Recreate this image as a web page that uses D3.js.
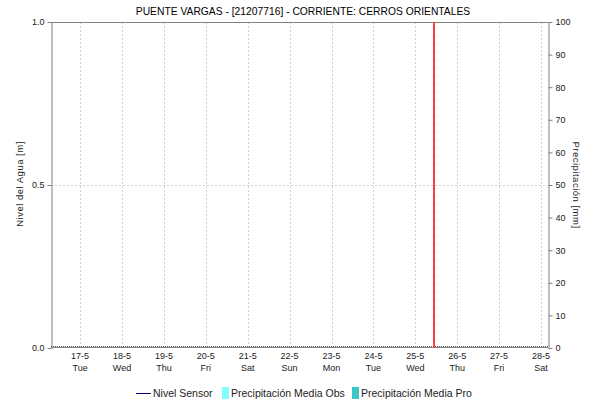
<!DOCTYPE html>
<html><head><meta charset="utf-8">
<script src="https://cdn.jsdelivr.net/npm/d3@7"></script>
<style>body{margin:0;background:#fff}svg{display:block;font-family:"Liberation Sans",Arial,sans-serif}</style>
</head><body><svg id="c" width="595" height="403"></svg>
<script>
const title = "PUENTE VARGAS - [21207716] - CORRIENTE: CERROS ORIENTALES";
const dayTicks = ["2022-05-17","2022-05-18","2022-05-19","2022-05-20","2022-05-21","2022-05-22","2022-05-23","2022-05-24","2022-05-25","2022-05-26","2022-05-27","2022-05-28"];
const dayNames = ["Sun","Mon","Tue","Wed","Thu","Fri","Sat"];
const timeDomain = ["2022-05-16T07:20","2022-05-28T04:00"];
const nowMarker = "2022-05-25T10:20";
const levelTicks = [0, 0.5, 1.0];
const precipTicks = [0,10,20,30,40,50,60,70,80,90,100];
const nivelSensor = []; // no readings
const legendItems = ["Nivel Sensor","Precipitación Media Obs","Precipitación Media Pro"];

const svg = d3.select("#c");
const L=51, R=548, T=22, B=348;
const parse = d3.timeParse("%Y-%m-%dT%H:%M");
const pday = d3.timeParse("%Y-%m-%d");
const x = d3.scaleTime().domain(timeDomain.map(parse)).range([L,R]);
const yL = d3.scaleLinear().domain([0,1]).range([B,T]);
const yR = d3.scaleLinear().domain([0,100]).range([B,T]);

// grid
const g = svg.append("g");
dayTicks.forEach(d=>{
  const xx = Math.round(x(pday(d)))+0.5;
  g.append("line").attr("x1",xx).attr("x2",xx).attr("y1",T).attr("y2",B)
   .attr("stroke","#d0d0d0").attr("stroke-dasharray","2,2");
});
g.append("line").attr("x1",L).attr("x2",R).attr("y1",Math.round(yL(0.5))+0.5).attr("y2",Math.round(yL(0.5))+0.5)
  .attr("stroke","#d0d0d0").attr("stroke-dasharray","2,2");

// frame top
svg.append("line").attr("x1",L).attr("x2",R).attr("y1",T+0.5).attr("y2",T+0.5).attr("stroke","#808080");

// baseline dotted
svg.append("line").attr("x1",L).attr("x2",R).attr("y1",B-0.5).attr("y2",B-0.5).attr("stroke","#808080");
svg.append("line").attr("x1",L).attr("x2",R).attr("y1",B-1.5).attr("y2",B-1.5).attr("stroke","#555").attr("stroke-dasharray","1,1");

// now marker
const nx = Math.round(x(parse(nowMarker)));
svg.append("rect").attr("x",nx).attr("y",T).attr("width",2).attr("height",B-T).attr("fill","#ff4040");
svg.append("line").attr("x1",nx+1.5).attr("x2",nx+1.5).attr("y1",T+6).attr("y2",B).attr("stroke","#b02020").attr("stroke-dasharray","1,7").attr("stroke-width",1);

// left axis
const axL = d3.axisLeft(yL).tickValues(levelTicks).tickFormat(d3.format(".1f")).tickSize(4).tickSizeOuter(0);
const gl = svg.append("g").attr("transform",`translate(${L+0.5},0)`).call(axL);
gl.select(".domain").attr("stroke","#808080");
gl.selectAll(".tick line").attr("stroke","#808080");
gl.selectAll("text").attr("font-size",9).attr("fill","#222");

// right axis
const axR = d3.axisRight(yR).tickValues(precipTicks).tickSize(4).tickSizeOuter(0);
const gr = svg.append("g").attr("transform",`translate(${R+0.5},0)`).call(axR);
gr.select(".domain").attr("stroke","#808080");
gr.selectAll(".tick line").attr("stroke","#808080");
gr.selectAll("text").attr("font-size",9).attr("fill","#222");

// bottom labels
const axB = d3.axisBottom(x).tickValues(dayTicks.map(pday)).tickSize(0).tickFormat(d=>"");
svg.append("g").attr("transform",`translate(0,${B})`).call(axB).select(".domain").remove();
dayTicks.forEach(d=>{
  const dt = pday(d);
  const xx = x(dt);
  svg.append("text").attr("x",xx).attr("y",359).attr("text-anchor","middle").attr("font-size",9).attr("fill","#222")
     .text(d3.timeFormat("%-d-%-m")(dt));
  svg.append("text").attr("x",xx).attr("y",371).attr("text-anchor","middle").attr("font-size",9).attr("fill","#222")
     .text(dayNames[dt.getDay()]);
});

// series
const line = d3.line().x(d=>x(parse(d[0]))).y(d=>yL(d[1]));
svg.append("path").datum(nivelSensor).attr("d",line).attr("fill","none").attr("stroke","#00008b");

// title
svg.append("text").attr("x",303).attr("y",15).attr("text-anchor","middle").attr("font-size",10.3).attr("fill","#000").text(title);
// axis titles
svg.append("text").attr("transform",`translate(23,184) rotate(-90)`).attr("text-anchor","middle").attr("font-size",9.5).attr("letter-spacing",0.5).attr("fill","#222").text("Nivel del Agua [m]");
svg.append("text").attr("transform",`translate(573,185) rotate(90)`).attr("text-anchor","middle").attr("font-size",9.5).attr("letter-spacing",0.5).attr("fill","#222").text("Precipitación [mm]");

// legend
const ly = 393;
svg.append("line").attr("x1",136).attr("x2",151).attr("y1",ly+0.5).attr("y2",ly+0.5).attr("stroke","#00008b");
svg.append("text").attr("x",153).attr("y",ly+4).attr("font-size",10.5).attr("fill","#222").text(legendItems[0]);
svg.append("rect").attr("x",222).attr("y",ly-6).attr("width",7).attr("height",12).attr("fill","#7fffff");
svg.append("text").attr("x",231).attr("y",ly+4).attr("font-size",10.5).attr("fill","#222").text(legendItems[1]);
svg.append("rect").attr("x",352).attr("y",ly-6).attr("width",7).attr("height",12).attr("fill","#3cc8c8");
svg.append("text").attr("x",361).attr("y",ly+4).attr("font-size",10.5).attr("fill","#222").text(legendItems[2]);
</script></body></html>
